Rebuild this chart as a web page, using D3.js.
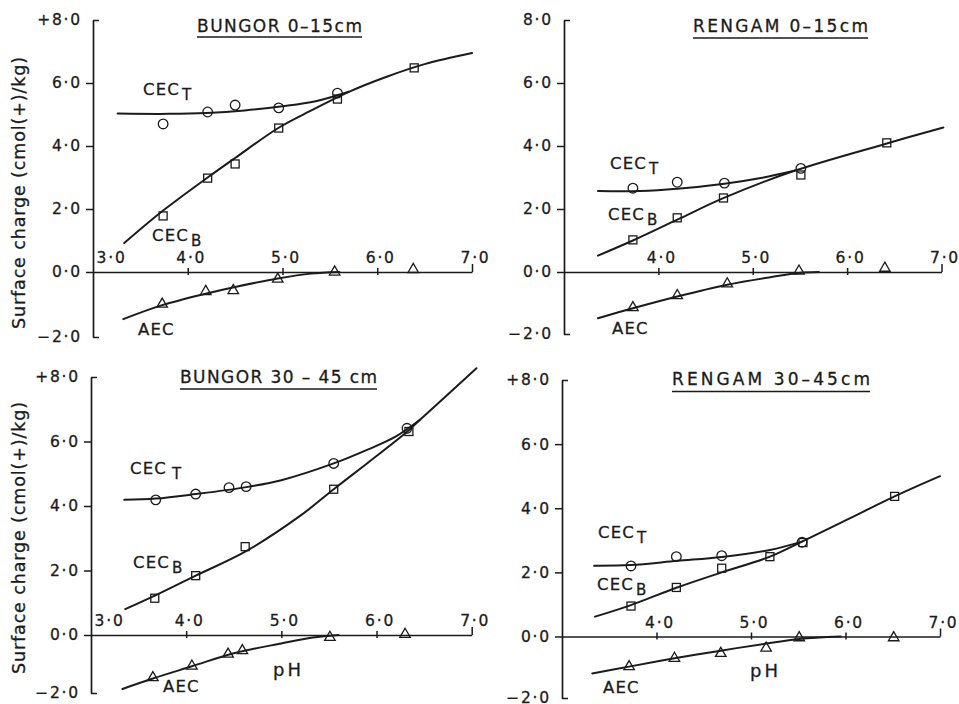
<!DOCTYPE html>
<html>
<head>
<meta charset="utf-8">
<script src="https://cdn.jsdelivr.net/npm/d3@7"></script>
<style>
  html, body { margin: 0; padding: 0; background: #fff; }
  svg { display: block; }
</style>
</head>
<body>
<svg id="chart" width="959" height="704"></svg>
<script>
// Shared tick values
const phTicks = [3, 4, 5, 6, 7];
const chargeTicks = [-2, 0, 2, 4, 6, 8];

// Bungor 0–15 cm: measured points [pH, cmol(+)/kg] and fitted curves
const bungorTopCecT = [[3.74, 4.70], [4.21, 5.08], [4.50, 5.30], [4.96, 5.21], [5.58, 5.68]];
const bungorTopCecB = [[3.74, 1.78], [4.21, 2.98], [4.50, 3.43], [4.96, 4.57], [5.58, 5.49], [6.39, 6.48]];
const bungorTopAec  = [[3.73, -0.99], [4.19, -0.60], [4.48, -0.57], [4.95, -0.22], [5.55, 0.00], [6.38, 0.08]];
const bungorTopCecTFit = [[3.26, 5.03], [3.8, 5.02], [4.2, 5.05], [4.6, 5.13], [5.0, 5.26], [5.35, 5.42], [5.7, 5.72]];
const bungorTopCecBFit = [[3.33, 0.92], [3.74, 1.95], [4.21, 3.0], [4.5, 3.62], [4.96, 4.58], [5.3, 5.12], [5.7, 5.72], [6.1, 6.2], [6.5, 6.6], [7.0, 6.95]];
const bungorTopAecFit  = [[3.32, -1.45], [3.73, -1.02], [4.2, -0.66], [4.5, -0.46], [4.95, -0.2], [5.3, -0.05], [5.6, 0]];

// Rengam 0–15 cm
const rengamTopCecT = [[3.73, 2.66], [4.20, 2.85], [4.70, 2.82], [5.51, 3.29]];
const rengamTopCecB = [[3.73, 1.02], [4.20, 1.72], [4.69, 2.35], [5.51, 3.08], [6.42, 4.10]];
const rengamTopAec  = [[3.73, -1.15], [4.20, -0.76], [4.73, -0.38], [5.49, 0.03], [6.40, 0.12]];
const rengamTopCecTFit = [[3.36, 2.57], [3.8, 2.57], [4.2, 2.64], [4.7, 2.80], [5.1, 2.99], [5.45, 3.22]];
const rengamTopCecBFit = [[3.36, 0.52], [3.73, 1.0], [4.2, 1.66], [4.7, 2.36], [5.45, 3.22], [6.42, 4.08], [7.02, 4.59]];
const rengamTopAecFit  = [[3.36, -1.49], [3.73, -1.17], [4.2, -0.79], [4.73, -0.41], [5.2, -0.16], [5.49, -0.03], [5.7, 0]];

// Bungor 30–45 cm
const bungorSubCecT = [[3.68, 4.19], [4.10, 4.37], [4.45, 4.57], [4.63, 4.60], [5.55, 5.32], [6.32, 6.41]];
const bungorSubCecB = [[3.67, 1.14], [4.10, 1.84], [4.62, 2.74], [5.55, 4.52], [6.34, 6.31]];
const bungorSubAec  = [[3.65, -1.47], [4.06, -1.07], [4.44, -0.66], [4.59, -0.54], [5.51, -0.08], [6.30, 0.02]];
const bungorSubCecTFit = [[3.35, 4.19], [3.68, 4.23], [4.1, 4.37], [4.6, 4.57], [5.0, 4.8], [5.55, 5.32], [5.9, 5.74], [6.2, 6.15], [6.46, 6.68]];
const bungorSubCecBFit = [[3.36, 0.80], [3.67, 1.22], [4.1, 1.84], [4.63, 2.60], [5.2, 3.70], [5.55, 4.52], [5.9, 5.32], [6.34, 6.35], [6.46, 6.68], [7.05, 8.27]];
const bungorSubAecFit  = [[3.33, -1.86], [3.65, -1.50], [4.06, -1.08], [4.5, -0.63], [5.0, -0.29], [5.33, -0.09], [5.6, 0]];

// Rengam 30–45 cm
const rengamSubCecT = [[3.73, 2.20], [4.21, 2.49], [4.69, 2.52], [5.54, 2.94]];
const rengamSubCecB = [[3.73, 0.95], [4.21, 1.53], [4.69, 2.13], [5.20, 2.49], [5.55, 2.93], [6.52, 4.37]];
const rengamSubAec  = [[3.71, -0.98], [4.19, -0.71], [4.68, -0.55], [5.16, -0.38], [5.51, -0.04], [6.51, -0.04]];
const rengamSubCecTFit = [[3.34, 2.21], [3.73, 2.23], [4.22, 2.36], [4.69, 2.48], [5.2, 2.70], [5.54, 2.96]];
const rengamSubCecBFit = [[3.35, 0.62], [3.73, 0.98], [4.21, 1.52], [4.69, 2.0], [5.2, 2.49], [5.54, 2.96], [6.0, 3.62], [6.52, 4.37], [7.0, 5.0]];
const rengamSubAecFit  = [[3.32, -1.20], [3.71, -0.98], [4.19, -0.71], [4.68, -0.46], [5.16, -0.23], [5.51, -0.08], [5.95, 0]];

const ink = "#1b1b1b";
const font = "'DejaVu Sans', sans-serif";
const svg = d3.select("#chart");

// Panel layout: scale ranges, titles and label anchors
const panels = [
  {
    title: "BUNGOR 0–15cm", titleBox: [197, 32, 165], ruleY: 37,
    xRange: [93, 472], yRange: [337, 272, 20], plusTop: true, showX3: true, yTitle: 193, pHLabel: null,
    cecT: bungorTopCecT, cecB: bungorTopCecB, aec: bungorTopAec,
    cecTFit: bungorTopCecTFit, cecBFit: bungorTopCecBFit, aecFit: bungorTopAecFit,
    tLab: [143, 95], bLab: [152, 241], aLab: [138, 335], subGap: 2
  },
  {
    title: "RENGAM 0–15cm", titleBox: [693, 32, 175], ruleY: 38,
    xRange: [564, 941.5], yRange: [334, 272, 20], plusTop: false, showX3: false, yTitle: null, pHLabel: null,
    cecT: rengamTopCecT, cecB: rengamTopCecB, aec: rengamTopAec,
    cecTFit: rengamTopCecTFit, cecBFit: rengamTopCecBFit, aecFit: rengamTopAecFit,
    tLab: [610, 169], bLab: [608, 220], aLab: [612, 334], subGap: 2
  },
  {
    title: "BUNGOR 30 – 45 cm", titleBox: [180, 383, 197], ruleY: 389,
    xRange: [91, 471.7], yRange: [693, 635, 377], plusTop: true, showX3: true, yTitle: 538, pHLabel: [273, 676],
    cecT: bungorSubCecT, cecB: bungorSubCecB, aec: bungorSubAec,
    cecTFit: bungorSubCecTFit, cecBFit: bungorSubCecBFit, aecFit: bungorSubAecFit,
    tLab: [130, 474], bLab: [133, 568], aLab: [163, 692], subGap: 5
  },
  {
    title: "RENGAM 30–45cm", titleBox: [672, 385, 198], ruleY: 391.5,
    xRange: [562, 940], yRange: [698, 636.5, 380], plusTop: true, showX3: false, yTitle: null, pHLabel: [750, 677],
    cecT: rengamSubCecT, cecB: rengamSubCecB, aec: rengamSubAec,
    cecTFit: rengamSubCecTFit, cecBFit: rengamSubCecBFit, aecFit: rengamSubAecFit,
    tLab: [598, 538], bLab: [597, 590], aLab: [603, 693], subGap: 2
  }
];

const fmtTick = (v, plus) => {
  const s = Math.abs(v).toFixed(1).replace(".", "·");
  if (v < 0) return "−" + s;
  if (v > 0 && plus && v === 8) return "+" + s;
  return s;
};

function styleText(sel, size, spacing) {
  sel.style("font-family", font)
     .style("font-size", size + "px")
     .style("letter-spacing", spacing + "px")
     .attr("fill", ink)
     .attr("stroke", ink)
     .attr("stroke-width", 0.3);
}

function seriesLabel(g, pos, main, sub, gap) {
  const t = g.append("text").attr("x", pos[0]).attr("y", pos[1]);
  styleText(t, 16.5, 1.2);
  t.append("tspan").text(main);
  if (sub) {
    t.append("tspan").attr("dx", gap).attr("dy", 4.5)
      .style("font-size", "15px").text(sub);
  }
}

panels.forEach(p => {
  const g = svg.append("g");
  const x = d3.scaleLinear().domain([3, 7]).range(p.xRange);
  const y = d3.scaleLinear().domain([-2, 0, 8]).range(p.yRange);

  // Vertical charge axis
  const yAxis = d3.axisLeft(y)
    .tickValues(chargeTicks)
    .tickSizeInner(7).tickSizeOuter(0).tickPadding(4)
    .tickFormat(v => fmtTick(v, p.plusTop));
  const ya = g.append("g").attr("transform", `translate(${x(3)},0)`).call(yAxis);
  ya.select(".domain").attr("stroke", ink).attr("stroke-width", 1.7);
  ya.selectAll(".tick line").attr("stroke", ink).attr("stroke-width", 1.5)
    .filter(v => v === 8 || v === -2).attr("x2", 6);
  styleText(ya.selectAll(".tick text"), 15.5, 1.8);

  // Horizontal pH axis drawn along zero charge
  const xAxis = d3.axisTop(x)
    .tickValues(p.showX3 ? phTicks : phTicks.slice(1))
    .tickSizeInner(4).tickSizeOuter(0)
    .tickFormat(v => v.toFixed(1).replace(".", "·"));
  const xa = g.append("g").attr("transform", `translate(0,${y(0)})`).call(xAxis);
  xa.select(".domain").attr("stroke", ink).attr("stroke-width", 1.7);
  xa.selectAll(".tick line").attr("stroke", ink).attr("stroke-width", 1.5)
    .attr("y1", 3).attr("y2", -4)
    .filter(v => v === 3).remove();
  xa.selectAll(".tick line").filter(v => v === 7).attr("y1", 0).attr("y2", -8);
  const xt = xa.selectAll(".tick text").attr("y", -9).attr("dy", 0).attr("dx", 3);
  styleText(xt, 15.5, 1.8);
  xt.filter(v => v === 3).attr("text-anchor", "start").attr("dx", 3);

  // Fitted curves
  const line = d3.line().x(d => x(d[0])).y(d => y(d[1])).curve(d3.curveCatmullRom.alpha(0.5));
  [p.cecTFit, p.cecBFit, p.aecFit].forEach(fit => {
    g.append("path").attr("d", line(fit))
      .attr("fill", "none").attr("stroke", ink).attr("stroke-width", 2)
      .attr("stroke-linecap", "round").attr("stroke-linejoin", "round");
  });

  // Measured points: circles CEC_T, squares CEC_B, triangles AEC
  g.append("g").selectAll("circle").data(p.cecT).join("circle")
    .attr("cx", d => x(d[0])).attr("cy", d => y(d[1])).attr("r", 4.8)
    .attr("fill", "none").attr("stroke", ink).attr("stroke-width", 1.3);
  g.append("g").selectAll("rect").data(p.cecB).join("rect")
    .attr("x", d => x(d[0]) - 4).attr("y", d => y(d[1]) - 4)
    .attr("width", 8).attr("height", 8)
    .attr("fill", "none").attr("stroke", ink).attr("stroke-width", 1.3);
  const tri = d3.symbol(d3.symbolTriangle, 48);
  g.append("g").selectAll("path").data(p.aec).join("path")
    .attr("d", tri)
    .attr("transform", d => `translate(${x(d[0])},${y(d[1])})`)
    .attr("fill", "none").attr("stroke", ink).attr("stroke-width", 1.3);

  // Series labels
  seriesLabel(g, p.tLab, "CEC", "T", p.subGap);
  seriesLabel(g, p.bLab, "CEC", "B", 2);
  seriesLabel(g, p.aLab, "AEC", null, 0);

  // Panel title, underlined
  const tt = g.append("text")
    .attr("x", p.titleBox[0]).attr("y", p.titleBox[1])
    .attr("textLength", p.titleBox[2]).attr("lengthAdjust", "spacing")
    .text(p.title);
  styleText(tt, 17, 0);
  g.append("line")
    .attr("x1", p.titleBox[0]).attr("x2", p.titleBox[0] + p.titleBox[2])
    .attr("y1", p.ruleY).attr("y2", p.ruleY)
    .attr("stroke", ink).attr("stroke-width", 1.5);

  if (p.pHLabel) {
    const ph = g.append("text").attr("x", p.pHLabel[0]).attr("y", p.pHLabel[1]).text("pH");
    styleText(ph, 18, 3);
  }

  if (p.yTitle) {
    const yt = g.append("text")
      .attr("transform", `translate(25,${p.yTitle}) rotate(-90)`)
      .attr("text-anchor", "middle")
      .attr("textLength", 272).attr("lengthAdjust", "spacing")
      .text("Surface charge (cmol(+)/kg)");
    styleText(yt, 17.5, 0);
  }
});
</script>
</body>
</html>
